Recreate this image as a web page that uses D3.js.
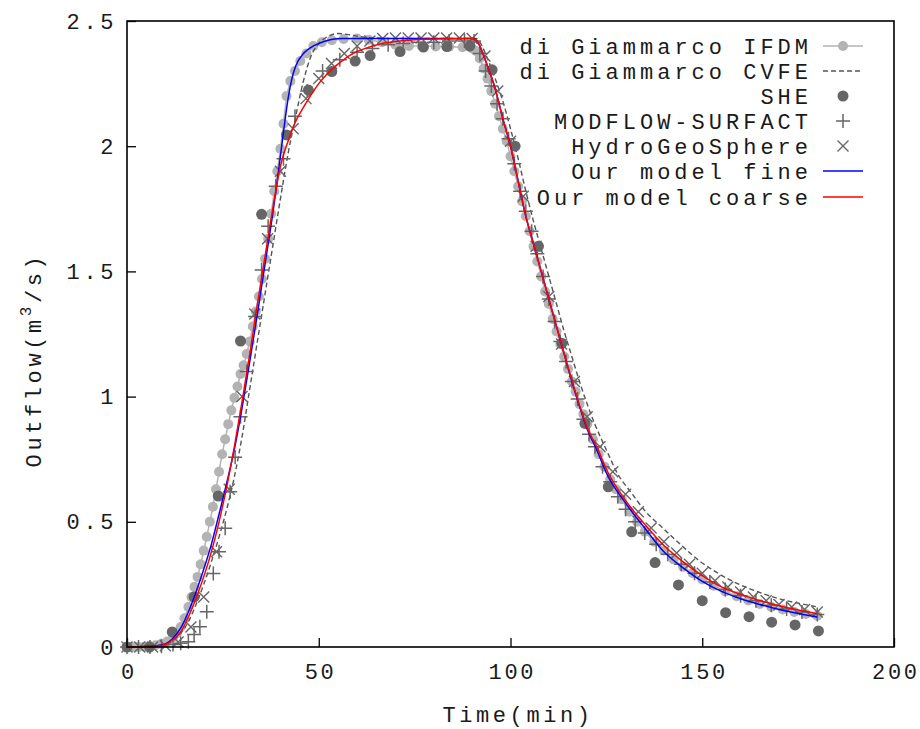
<!DOCTYPE html>
<html><head><meta charset="utf-8">
<script src="https://cdn.jsdelivr.net/npm/d3@7"></script>
<style>
body{margin:0;background:#fff}
text{font-family:"Liberation Mono","Courier New",monospace;fill:#1a1a1a}
</style>
</head><body>
<svg id="chart" width="920" height="729"></svg>
<script>
// ---------- data (time in min, outflow in m^3/s) ----------
const xTicks = [0, 50, 100, 150, 200];
const xTickLabels = ["0", "50", "100", "150", "200"];
const yTicks = [0, 0.5, 1, 1.5, 2, 2.5];
const yTickLabels = ["0", "0.5", "1", "1.5", "2", "2.5"];
const seriesNames = ["di Giammarco IFDM", "di Giammarco CVFE", "SHE", "MODFLOW-SURFACT", "HydroGeoSphere", "Our model fine", "Our model coarse"];

const ifdm = [[0,0],[1.5,0],[3,0],[4.5,0.001],[6,0.003],[7.5,0.007],[9,0.013],[10.5,0.022],[12,0.038],[13,0.055],[14,0.08],[15,0.115],[16,0.16],[16.8,0.2],[17.6,0.24],[18.4,0.28],[19.2,0.33],[20,0.385],[20.8,0.44],[21.6,0.5],[22.4,0.56],[23.2,0.63],[24,0.7],[24.8,0.77],[25.6,0.83],[26.4,0.89],[27.2,0.945],[28,0.995],[28.8,1.04],[29.6,1.09],[30.4,1.125],[31.2,1.17],[32,1.22],[32.8,1.28],[33.6,1.34],[34.4,1.4],[35.2,1.47],[36,1.55],[36.8,1.63],[37.6,1.73],[38.4,1.82],[39.2,1.9],[40,1.99],[40.8,2.09],[41.6,2.2],[42.6,2.26],[43.8,2.3],[45.2,2.34],[46.8,2.37],[48.6,2.4],[50.8,2.415],[53.4,2.423],[56.5,2.428],[60,2.43],[63,2.425],[66.5,2.415],[70,2.405],[73.5,2.4],[77,2.4],[80.5,2.398],[84,2.397],[87.5,2.395],[90,2.39],[91,2.38],[92,2.35],[93,2.31],[94,2.27],[95,2.22],[96,2.17],[97,2.12],[98,2.07],[99,2.02],[100,1.96],[101,1.9],[102,1.84],[103,1.78],[104,1.72],[105,1.66],[106,1.6],[107,1.54],[108,1.48],[109,1.42],[110,1.37],[111,1.31],[112,1.26],[113,1.21],[114,1.16],[115,1.11],[116,1.06],[117,1.02],[118,0.97],[119,0.93],[120,0.89],[121.5,0.83],[123,0.77],[124.5,0.72],[126,0.67],[127.5,0.63],[129,0.59],[131,0.54],[133,0.5],[135,0.46],[137.5,0.42],[140,0.385],[142.5,0.35],[145,0.32],[147.5,0.295],[150,0.27],[153,0.245],[156,0.222],[159,0.203],[162,0.186],[165,0.172],[168,0.16],[171,0.15],[174,0.14],[177,0.132],[180,0.125]];

const cvfe = [[0,0],[5,0.002],[10,0.01],[12,0.025],[14,0.055],[16,0.1],[18,0.17],[20,0.25],[22,0.34],[24,0.44],[26,0.55],[28,0.68],[30,0.84],[32,1.03],[34,1.22],[36,1.41],[38,1.6],[40,1.79],[42,1.97],[44,2.12],[46,2.26],[48,2.36],[50,2.41],[52,2.435],[55,2.45],[58,2.445],[62,2.435],[70,2.43],[90,2.43],[91,2.43],[92,2.415],[94,2.35],[96,2.27],[98,2.18],[100,2.07],[102,1.95],[104,1.82],[106,1.7],[108,1.59],[110,1.48],[112,1.37],[114,1.26],[116,1.16],[118,1.06],[120,0.97],[122,0.89],[125,0.787],[128,0.69],[131.6,0.614],[135,0.545],[139.8,0.474],[145,0.4],[149,0.347],[153,0.305],[157.2,0.268],[162,0.235],[166.8,0.208],[172,0.185],[176,0.172],[180,0.16]];

const she = [[0,0],[5.9,0],[11.8,0.06],[17.5,0.2],[23.8,0.603],[29.6,1.222],[35.1,1.728],[41.6,2.045],[47.3,2.224],[53.4,2.298],[59.5,2.34],[63.4,2.362],[71.2,2.378],[77.3,2.396],[83.4,2.398],[89.4,2.4],[95.2,2.305],[101.2,2.0],[107.3,1.6],[113.4,1.213],[119.4,0.893],[125.5,0.64],[131.6,0.46],[137.7,0.337],[143.8,0.248],[150,0.185],[156.1,0.137],[162.2,0.121],[168.1,0.099],[174.2,0.088],[180.3,0.064]];

const modflow = [[0,0],[3,0],[6,0],[9,0.003],[12,0.01],[14,0.015],[16,0.021],[17.5,0.05],[19,0.081],[20.8,0.141],[22.5,0.294],[24,0.38],[25.6,0.474],[26.9,0.62],[28.2,0.758],[29.6,0.92],[31.2,1.1],[33.4,1.32],[35.1,1.506],[36.8,1.68],[38.8,1.84],[40.8,1.95],[43.8,2.12],[47,2.22],[51,2.3],[55.5,2.345],[60,2.375],[64,2.39],[68.1,2.405],[72,2.41],[76,2.415],[80,2.415],[84,2.42],[88,2.42],[90.5,2.42],[92,2.37],[93.5,2.3],[95,2.24],[96.5,2.17],[98,2.11],[99.5,2.03],[101,1.93],[102.5,1.82],[104,1.74],[105.5,1.66],[107,1.57],[108.5,1.48],[110,1.39],[111.5,1.3],[113,1.22],[114.5,1.14],[116,1.06],[117.5,0.99],[119,0.91],[120.5,0.85],[122,0.8],[124,0.72],[126,0.66],[128,0.6],[130,0.55],[132.5,0.5],[135,0.455],[138,0.41],[141,0.37],[144.5,0.33],[148,0.295],[152,0.26],[156,0.23],[160,0.205],[164,0.185],[168,0.167],[172,0.152],[176,0.14],[180,0.13]];

const hgs = [[0,0],[3.33,0],[6.67,0],[10,0.005],[13.33,0.02],[16.67,0.08],[20,0.2],[23.33,0.38],[26.67,0.63],[30,1.0],[33.33,1.33],[36.67,1.63],[40,1.9],[43.33,2.07],[46.67,2.19],[50,2.27],[53.33,2.33],[56.67,2.37],[60,2.4],[63.33,2.42],[66.67,2.43],[70,2.432],[73.33,2.432],[76.67,2.432],[80,2.432],[83.33,2.432],[86.67,2.432],[90,2.43],[93.33,2.36],[96.67,2.22],[100,2.02],[103.33,1.8],[106.67,1.6],[110,1.4],[113.33,1.21],[116.67,1.06],[120,0.92],[123.33,0.8],[126.67,0.7],[130,0.61],[133.33,0.54],[136.67,0.475],[140,0.42],[143.33,0.375],[146.67,0.33],[150,0.295],[153.33,0.265],[156.67,0.24],[160,0.22],[163.33,0.2],[166.67,0.185],[170,0.17],[173.33,0.16],[176.67,0.15],[180,0.14]];

const fine = [[0,0],[4,0.002],[8,0.006],[10,0.012],[12,0.035],[14,0.075],[16,0.14],[18,0.22],[20,0.31],[22,0.41],[24,0.53],[26,0.655],[28,0.79],[30,0.955],[32,1.14],[34,1.33],[36,1.53],[38,1.73],[39,1.84],[40,1.96],[41,2.08],[42,2.19],[43,2.27],[44,2.32],[46,2.37],[48,2.395],[50,2.41],[53,2.425],[56,2.43],[90,2.43],[91,2.425],[92,2.4],[94,2.32],[96,2.23],[98,2.11],[100,2.0],[102,1.86],[104,1.72],[106,1.61],[108,1.5],[110,1.39],[112,1.28],[114,1.17],[116,1.06],[118,0.96],[120,0.87],[122.5,0.787],[125,0.695],[130,0.575],[135,0.475],[140,0.38],[145,0.316],[150,0.262],[155,0.222],[160,0.193],[165,0.17],[170,0.15],[175,0.134],[180,0.12]];

const coarse = [[0,0],[4,0.001],[8,0.004],[10,0.01],[12,0.03],[14,0.06],[16,0.12],[18,0.195],[20,0.28],[22,0.38],[24,0.5],[26,0.64],[28,0.8],[30,0.98],[32,1.17],[34,1.37],[36,1.56],[38,1.75],[40,1.92],[42,2.02],[44,2.1],[46,2.155],[48,2.205],[50,2.25],[52,2.285],[54,2.315],[56,2.34],[58,2.362],[60,2.378],[63,2.395],[66,2.408],[70,2.418],[75,2.425],[80,2.428],[90,2.43],[91,2.425],[92,2.4],[94,2.32],[96,2.23],[98,2.11],[100,2.0],[102,1.86],[104,1.72],[106,1.61],[108,1.5],[110,1.39],[112,1.28],[114,1.17],[116,1.065],[118,0.965],[120,0.875],[122.5,0.8],[125,0.71],[130,0.585],[135,0.49],[140,0.405],[145,0.34],[150,0.285],[155,0.24],[160,0.21],[165,0.185],[170,0.165],[175,0.148],[180,0.133]];

// ---------- layout ----------
const svg = d3.select("#chart");
const x = d3.scaleLinear().domain([0, 200]).range([127, 894]);
const y = d3.scaleLinear().domain([0, 2.5]).range([647, 21]);
const FS = 22, LS = 3.6;
const FF = '"Liberation Mono","Courier New",monospace';
const lightGray = "#b3b3b3", darkGray = "#666666";

function styleText(sel, ls = LS) {
  return sel.style("font-size", FS + "px").style("font-family", FF)
    .style("letter-spacing", ls + "px").attr("fill", "#1a1a1a");
}

// axes
const xAxis = d3.axisBottom(x).tickValues(xTicks).tickSize(-9).tickPadding(16)
  .tickFormat((d, i) => xTickLabels[i]);
const yAxis = d3.axisLeft(y).tickValues(yTicks).tickSize(-9).tickPadding(10)
  .tickFormat((d, i) => yTickLabels[i]);

const gx = svg.append("g").attr("transform", "translate(0,647)").call(xAxis);
const gy = svg.append("g").attr("transform", "translate(127,0)").call(yAxis);
[gx, gy].forEach(g => {
  g.select(".domain").remove();
  g.selectAll(".tick line").attr("stroke", "#000").attr("stroke-width", 1.3);
});
styleText(gy.selectAll(".tick text"));
styleText(gx.selectAll(".tick text"), 2.6).attr("dx", 1.3);

// data layer
const plot = svg.append("g");
const line = d3.line().x(d => x(d[0])).y(d => y(d[1]));
const smooth = d3.line().x(d => x(d[0])).y(d => y(d[1])).curve(d3.curveMonotoneX);

// IFDM line + circles
plot.append("path").datum(ifdm).attr("d", line).attr("fill", "none")
  .attr("stroke", lightGray).attr("stroke-width", 1.5);
plot.append("g").selectAll("circle").data(ifdm).join("circle")
  .attr("cx", d => x(d[0])).attr("cy", d => y(d[1])).attr("r", 5).attr("fill", lightGray);

// CVFE dashed
plot.append("path").datum(cvfe).attr("d", smooth).attr("fill", "none")
  .attr("stroke", "#555").attr("stroke-width", 1.4).attr("stroke-dasharray", "5,3");

// SHE
plot.append("g").selectAll("circle").data(she).join("circle")
  .attr("cx", d => x(d[0])).attr("cy", d => y(d[1])).attr("r", 5.5).attr("fill", darkGray);

// MODFLOW plus
const plusPath = "M-7,0H7M0,-7V7";
const crossPath = "M-5.5,-5.5L5.5,5.5M-5.5,5.5L5.5,-5.5";
plot.append("g").selectAll("path").data(modflow).join("path")
  .attr("d", plusPath).attr("transform", d => `translate(${x(d[0])},${y(d[1])})`)
  .attr("stroke", darkGray).attr("stroke-width", 1.5).attr("fill", "none");

// HGS cross
plot.append("g").selectAll("path").data(hgs).join("path")
  .attr("d", crossPath).attr("transform", d => `translate(${x(d[0])},${y(d[1])})`)
  .attr("stroke", darkGray).attr("stroke-width", 1.4).attr("fill", "none");

// model lines
plot.append("path").datum(fine).attr("d", smooth).attr("fill", "none")
  .attr("stroke", "#0000ff").attr("stroke-width", 1.5);
plot.append("path").datum(coarse).attr("d", smooth).attr("fill", "none")
  .attr("stroke", "#ff0000").attr("stroke-width", 1.5);

// border
svg.append("rect").attr("x", 127).attr("y", 21).attr("width", 767).attr("height", 626)
  .attr("fill", "none").attr("stroke", "#000").attr("stroke-width", 1.6);

// axis titles
styleText(svg.append("text").attr("x", 518).attr("y", 722).attr("text-anchor", "middle"))
  .text("Time(min)");
const yl = styleText(svg.append("text").attr("transform", "translate(41,360) rotate(-90)")
  .attr("text-anchor", "middle"));
yl.append("tspan").text("Outflow(m");
yl.append("tspan").attr("dy", -10).style("font-size", "16px").text("3");
yl.append("tspan").attr("dy", 10).text("/s)");

// legend
const legY = [46, 71, 96, 121, 146, 171, 197];
const lg = svg.append("g");
seriesNames.forEach((name, i) => {
  styleText(lg.append("text").attr("x", 812).attr("y", legY[i] + 8).attr("text-anchor", "end"), 4)
    .text(name);
});
const sx0 = 823, sx1 = 863, sxm = 843;
lg.append("line").attr("x1", sx0).attr("x2", sx1).attr("y1", legY[0]).attr("y2", legY[0])
  .attr("stroke", lightGray).attr("stroke-width", 1.5);
lg.append("circle").attr("cx", sxm).attr("cy", legY[0]).attr("r", 5).attr("fill", lightGray);
lg.append("line").attr("x1", sx0).attr("x2", sx1).attr("y1", legY[1]).attr("y2", legY[1])
  .attr("stroke", "#555").attr("stroke-width", 1.4).attr("stroke-dasharray", "5,3");
lg.append("circle").attr("cx", sxm).attr("cy", legY[2]).attr("r", 5.5).attr("fill", darkGray);
lg.append("path").attr("d", plusPath).attr("transform", `translate(${sxm},${legY[3]})`)
  .attr("stroke", darkGray).attr("stroke-width", 1.5);
lg.append("path").attr("d", crossPath).attr("transform", `translate(${sxm},${legY[4]})`)
  .attr("stroke", darkGray).attr("stroke-width", 1.4);
lg.append("line").attr("x1", sx0).attr("x2", sx1).attr("y1", legY[5]).attr("y2", legY[5])
  .attr("stroke", "#0000ff").attr("stroke-width", 1.5);
lg.append("line").attr("x1", sx0).attr("x2", sx1).attr("y1", legY[6]).attr("y2", legY[6])
  .attr("stroke", "#ff0000").attr("stroke-width", 1.5);
</script>
</body></html>
